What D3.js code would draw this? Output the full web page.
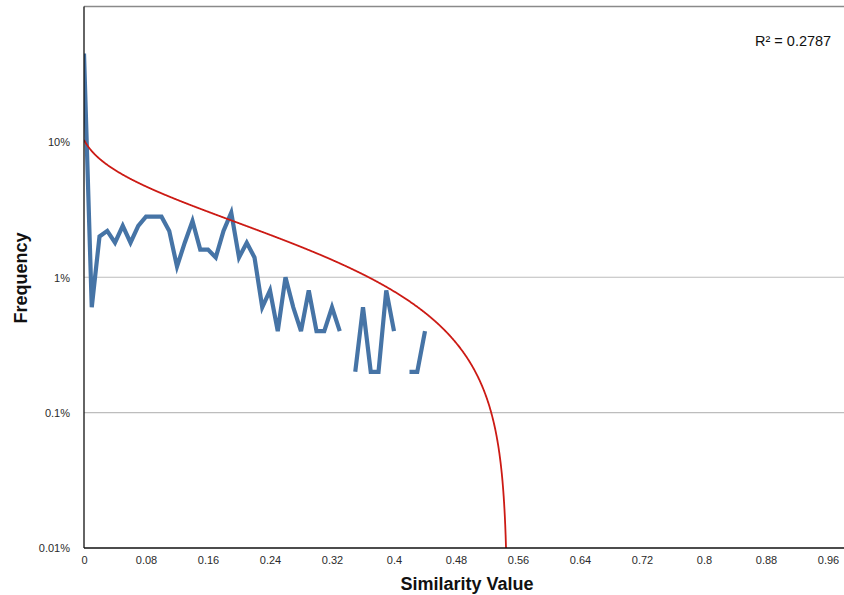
<!DOCTYPE html>
<html>
<head>
<meta charset="utf-8">
<script src="https://cdn.jsdelivr.net/npm/d3@7"></script>
<style>
  html, body { margin: 0; padding: 0; background: #fff; }
  svg { display: block; font-family: "Liberation Sans", Arial, Helvetica, sans-serif; }
</style>
</head>
<body>
<svg id="chart" width="844" height="595"></svg>
<script>
// Similarity values (category positions) and their observed frequency (fraction of pairs).
// A zero frequency leaves a gap in the log-scaled line.
const similarity = [
  0.00, 0.01, 0.02, 0.03, 0.04, 0.05, 0.06, 0.07, 0.08, 0.09,
  0.10, 0.11, 0.12, 0.13, 0.14, 0.15, 0.16, 0.17, 0.18, 0.19,
  0.20, 0.21, 0.22, 0.23, 0.24, 0.25, 0.26, 0.27, 0.28, 0.29,
  0.30, 0.31, 0.32, 0.33, 0.34, 0.35, 0.36, 0.37, 0.38, 0.39,
  0.40, 0.41, 0.42, 0.43, 0.44
];
const frequency = [
  0.450, 0.006, 0.020, 0.022, 0.018, 0.024, 0.018, 0.024, 0.028, 0.028,
  0.028, 0.022, 0.012, 0.018, 0.026, 0.016, 0.016, 0.014, 0.022, 0.030,
  0.014, 0.018, 0.014, 0.006, 0.008, 0.004, 0.010, 0.006, 0.004, 0.008,
  0.004, 0.004, 0.006, 0.004, 0.000, 0.002, 0.006, 0.002, 0.002, 0.008,
  0.004, 0.000, 0.002, 0.002, 0.004
];

// Logarithmic trendline over the category index n = 1, 2, 3 ...:  y = a + b·ln(n)
const trendA = 0.1033;
const trendB = -0.0257;
const trendR2 = "0.2787";

// Axis ticks
const xTicks = [0, 0.08, 0.16, 0.24, 0.32, 0.4, 0.48, 0.56, 0.64, 0.72, 0.8, 0.88, 0.96];
const yTicks = [0.0001, 0.001, 0.01, 0.1];
const yTickLabels = ["0.01%", "0.1%", "1%", "10%"];
const yGridValues = [1, 0.01, 0.001];

const svg = d3.select("#chart");
const plotL = 84, plotR = 844, plotT = 6.5, plotB = 548;

const x = d3.scaleLinear().domain([0, 0.98]).range([plotL, plotL + 0.98 * 775]);
const y = d3.scaleLog().domain([0.0001, 1]).range([plotB, plotT]);

svg.append("defs").append("clipPath").attr("id", "plot-clip")
  .append("rect").attr("x", plotL).attr("y", plotT - 1).attr("width", plotR - plotL).attr("height", plotB - plotT + 1);

// Horizontal grid lines
svg.append("g")
  .selectAll("line")
  .data(yGridValues)
  .join("line")
  .attr("x1", plotL).attr("x2", plotR)
  .attr("y1", d => y(d)).attr("y2", d => y(d))
  .attr("stroke", d => d === 1 ? "#8a8a8a" : "#bdbdbd")
  .attr("stroke-width", d => d === 1 ? 1.5 : 1.2);

// Y axis
const yAxis = d3.axisLeft(y).tickValues(yTicks).tickSize(0).tickPadding(0)
  .tickFormat((d, i) => yTickLabels[i]);
const gy = svg.append("g").attr("transform", `translate(${plotL - 14},0)`).call(yAxis);
gy.select(".domain").remove();
gy.selectAll("text").attr("font-size", 11).attr("fill", "#2a2a2a")
  .attr("font-family", "'Liberation Sans', Arial, sans-serif").attr("dy", "0.36em");

// X axis
const xAxis = d3.axisBottom(x).tickValues(xTicks).tickSize(0).tickPadding(0)
  .tickFormat(d => String(+d.toFixed(2)));
const gx = svg.append("g").attr("transform", `translate(0,${plotB + 8})`).call(xAxis);
gx.select(".domain").remove();
gx.selectAll("text").attr("font-size", 11).attr("fill", "#2a2a2a")
  .attr("font-family", "'Liberation Sans', Arial, sans-serif").attr("dy", "0.71em");

// Frequency line
const points = similarity.map((s, i) => ({ s, f: frequency[i] }));
const freqLine = d3.line()
  .defined(d => d.f > 0)
  .x(d => x(d.s))
  .y(d => y(d.f));
svg.append("path")
  .datum(points)
  .attr("clip-path", "url(#plot-clip)")
  .attr("fill", "none")
  .attr("stroke", "#4674a6")
  .attr("stroke-width", 4.2)
  .attr("stroke-linejoin", "miter")
  .attr("stroke-miterlimit", 4)
  .attr("d", freqLine);

// Trendline: sampled along x until it falls below the axis floor
const trendAt = s => trendA + trendB * Math.log(s * 100 + 1);
const zeroAt = (Math.exp(-trendA / trendB) - 1) / 100;
const trendPts = [];
for (let s = 0; s < zeroAt; s += 0.0005) trendPts.push({ s, v: trendAt(s) });
trendPts.push({ s: zeroAt - 1e-7, v: Math.max(trendAt(zeroAt - 1e-7), 1e-9) });
svg.append("path")
  .datum(trendPts)
  .attr("clip-path", "url(#plot-clip)")
  .attr("fill", "none")
  .attr("stroke", "#cc1a14")
  .attr("stroke-width", 1.8)
  .attr("d", d3.line().x(d => x(d.s)).y(d => Math.min(y(Math.max(d.v, 1e-9)), plotB + 5)));

// Axis lines
svg.append("line").attr("x1", plotL).attr("x2", plotL).attr("y1", plotT).attr("y2", plotB)
  .attr("stroke", "#111").attr("stroke-width", 1.3);
svg.append("line").attr("x1", plotL).attr("x2", plotR).attr("y1", plotB).attr("y2", plotB)
  .attr("stroke", "#111").attr("stroke-width", 1.5);

// Titles
svg.append("text")
  .attr("x", 467).attr("y", 590)
  .attr("text-anchor", "middle")
  .attr("font-size", 18).attr("font-weight", "bold").attr("fill", "#111")
  .text("Similarity Value");

svg.append("text")
  .attr("transform", "translate(27,278) rotate(-90)")
  .attr("text-anchor", "middle")
  .attr("font-size", 18).attr("font-weight", "bold").attr("fill", "#111")
  .text("Frequency");

svg.append("text")
  .attr("x", 755).attr("y", 46)
  .attr("font-size", 14.5).attr("fill", "#111")
  .text("R\u00B2 = " + trendR2);
</script>
</body>
</html>
